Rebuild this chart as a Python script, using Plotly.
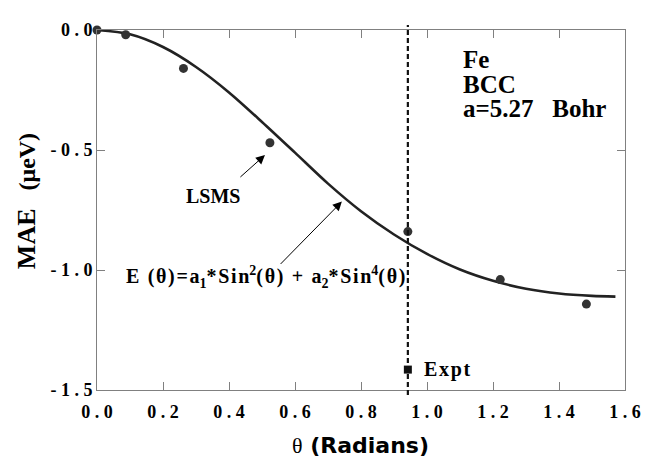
import plotly.graph_objects as go

# LSMS calculated points (theta in radians, MAE in micro-eV)
lsms_theta = [0.0, 0.087, 0.262, 0.524, 0.942, 1.222, 1.483]
lsms_mae = [0.0, -0.02, -0.16, -0.47, -0.84, -1.04, -1.142]

# Fitted curve E(theta) = a1*sin^2 + a2*sin^4
fit_theta = [0.0, 0.1, 0.2, 0.3, 0.4, 0.5, 0.6, 0.7, 0.8, 0.9, 1.0, 1.1, 1.2, 1.3, 1.4, 1.5, 1.571]
fit_mae = [0.0, -0.018, -0.071, -0.154, -0.260, -0.383, -0.511, -0.640, -0.755, -0.852, -0.933,
           -0.998, -1.045, -1.078, -1.098, -1.108, -1.111]

# Experimental value
expt_theta = [0.942]
expt_mae = [-1.415]

# Ticks
NB = "\u00a0"
x_tick_vals = [0.0, 0.2, 0.4, 0.6, 0.8, 1.0, 1.2, 1.4, 1.6]
x_tick_text = ["0 . 0", "0 . 2", "0 . 4", "0 . 6", "0 . 8", "1 . 0", "1 . 2", "1 . 4", "1 . 6"]
y_tick_vals = [0.0, -0.5, -1.0, -1.5]
y_tick_text = ["0 . 0", "- 0 . 5", "- 1 . 0", "- 1 . 5"]

SERIF = "Liberation Serif"
HS = "\u200a"


def ls(s):
    return HS.join(s)


fig = go.Figure()

fig.add_trace(go.Scatter(
    x=fit_theta, y=fit_mae, mode="lines",
    line=dict(color="#222222", width=2.6, shape="spline", smoothing=0.8),
    showlegend=False, hoverinfo="skip"))

fig.add_trace(go.Scatter(
    x=lsms_theta, y=lsms_mae, mode="markers",
    marker=dict(symbol="circle", size=9, color="#333333"),
    cliponaxis=False, showlegend=False))

fig.add_trace(go.Scatter(
    x=expt_theta, y=expt_mae, mode="markers",
    marker=dict(symbol="square", size=8, color="#111111"),
    cliponaxis=False, showlegend=False))

# vertical dashed line at the experimental angle
fig.add_shape(type="line", xref="x", yref="paper",
              x0=expt_theta[0], x1=expt_theta[0], y0=-0.014, y1=1.014,
              line=dict(color="#111111", width=2.2, dash="5px,3px"))

axis_common = dict(showline=True, linecolor="#808080", linewidth=1, mirror="ticks",
                   ticks="inside", ticklen=8, tickcolor="#808080", tickwidth=1,
                   showgrid=False, zeroline=False,
                   tickfont=dict(family=SERIF, size=18, color="black", weight="bold"))

fig.update_xaxes(range=[0, 1.6], tickvals=x_tick_vals,
                 ticktext=[t.replace(" ", NB) for t in x_tick_text],
                 ticklabelstandoff=5, **axis_common)
fig.update_yaxes(range=[-1.5, 0], tickvals=y_tick_vals,
                 ticktext=[t.replace(" ", NB) for t in y_tick_text],
                 ticklabelstandoff=0, **axis_common)

ann = []
# Fe / BCC / a=5.27 Bohr
for txt, yy in [("Fe", -0.124), ("BCC", -0.226), ("a=5.27\u00a0\u00a0\u00a0Bohr", -0.328)]:
    ann.append(dict(x=1.104, y=yy, xref="x", yref="y", text=txt, showarrow=False,
                    xanchor="left", yanchor="middle",
                    font=dict(family=SERIF, size=25, color="black", weight="bold")))
# LSMS label and arrow
ann.append(dict(x=0.350, y=-0.690, xref="x", yref="y", text="LSMS", showarrow=False,
                xanchor="center", yanchor="middle",
                font=dict(family=SERIF, size=20, color="black", weight="bold")))
ann.append(dict(x=0.509, y=-0.521, ax=0.430, ay=-0.618, xref="x", yref="y",
                axref="x", ayref="y", text="", showarrow=True,
                arrowhead=2, arrowsize=1.8, arrowwidth=1, arrowcolor="black"))
# Formula label and arrow
formula = (ls("E (θ)=a") + "<sub>1</sub>" + ls("*Sin") + "<sup>2</sup>" + ls("(θ) + a")
           + "<sub>2</sub>" + ls("*Sin") + "<sup>4</sup>" + ls("(θ)"))
ann.append(dict(x=0.512, y=-1.030, xref="x", yref="y", text=formula, showarrow=False,
                xanchor="center", yanchor="middle",
                font=dict(family=SERIF, size=20, color="black", weight="bold")))
ann.append(dict(x=0.742, y=-0.715, ax=0.552, ay=-0.981, xref="x", yref="y",
                axref="x", ayref="y", text="", showarrow=True,
                arrowhead=2, arrowsize=1.8, arrowwidth=1, arrowcolor="black"))
# Expt label
ann.append(dict(x=0.985, y=-1.415, xref="x", yref="y", text=ls("Expt"), showarrow=False,
                xanchor="left", yanchor="middle",
                font=dict(family=SERIF, size=20, color="black", weight="bold")))
# axis titles
ann.append(dict(x=-0.133, y=0.524, xref="paper", yref="paper",
                text="<span style='font-size:26px'>MAE</span>\u00a0\u00a0\u00a0(μeV)",
                textangle=-90, showarrow=False, xanchor="center", yanchor="middle",
                font=dict(family=SERIF, size=24, color="black", weight="bold")))
ann.append(dict(x=0.4985, y=-0.155, xref="paper", yref="paper",
                text="<span style='font-family:Liberation Serif;font-weight:normal'>θ</span> (Radians)",
                showarrow=False, xanchor="center", yanchor="middle",
                font=dict(family="DejaVu Sans", size=22, color="black", weight="bold")))

# the page adds an 8px body margin, so the figure is 8px smaller than the window
fig.update_layout(
    width=651, height=452,
    margin=dict(l=89, r=34, t=13, b=70),
    paper_bgcolor="white", plot_bgcolor="white",
    annotations=ann, showlegend=False)

fig.write_html("out.html")
